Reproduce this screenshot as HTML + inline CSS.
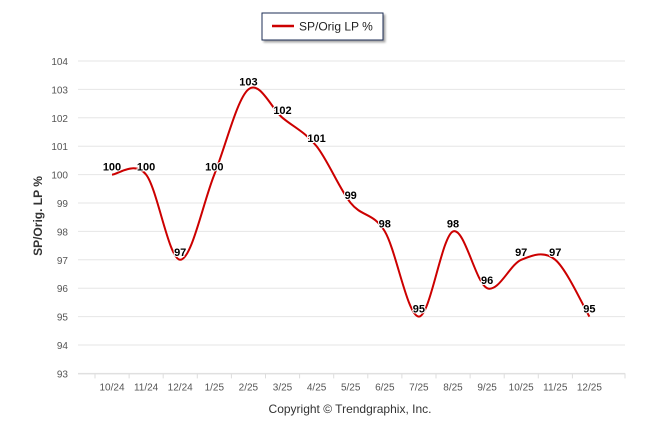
<!DOCTYPE html>
<html><head><meta charset="utf-8"><style>
body{margin:0;background:#fff;}
svg{display:block;font-family:"Liberation Sans",Arial,sans-serif;}
</style></head><body>
<svg id="c" width="646" height="434">
<defs><filter id="sh" x="-10%" y="-10%" width="130%" height="140%"><feDropShadow dx="2" dy="2" stdDeviation="1" flood-color="#000" flood-opacity="0.35"/></filter></defs>
<g>
<rect x="262" y="13" width="121" height="27" fill="#fff" stroke="#1f2f55" stroke-width="1" filter="url(#sh)"/>
<line x1="272" y1="26" x2="294" y2="26" stroke="#cc0000" stroke-width="2.5"/>
<text x="299" y="30.5" font-size="12" fill="#222">SP/Orig LP %</text>
</g>
<g id="grid"></g>
<g id="yt"></g>
<g id="xt"></g>
<text x="42" y="216" font-size="12" font-weight="bold" fill="#333" text-anchor="middle" transform="rotate(-90 42 216)">SP/Orig. LP %</text>
<path id="ln" fill="none" stroke="#cc0000" stroke-width="2"/>
<g id="lb"></g>
<text x="350" y="413" font-size="12" fill="#333" text-anchor="middle">Copyright © Trendgraphix, Inc.</text>
</svg>
<script>
const categories=["10/24","11/24","12/24","1/25","2/25","3/25","4/25","5/25","6/25","7/25","8/25","9/25","10/25","11/25","12/25"];
const values=[100,100,97,100,103,102,101,99,98,95,98,96,97,97,95];
const yTicks=[93,94,95,96,97,98,99,100,101,102,103,104];
const NS="http://www.w3.org/2000/svg";
const X0=78,X1=625;
function xs(i){return 112+i*34.1;}
function ys(v){return 61+(104-v)*28.4;}
function mk(t,a,p,txt){const e=document.createElementNS(NS,t);for(const k in a)e.setAttribute(k,a[k]);if(txt!=null)e.textContent=txt;p.appendChild(e);return e;}
const grid=document.getElementById('grid'),yt=document.getElementById('yt'),xt=document.getElementById('xt'),lb=document.getElementById('lb');
yTicks.forEach(v=>{
 const g=mk('line',{x1:X0,x2:X1,y1:ys(v),y2:ys(v),stroke:'#e6e6e6','stroke-width':1},grid);
 
 
 const t=mk('text',{x:68,y:ys(v)+4,'font-size':10,fill:'#555','text-anchor':'end'},yt,v);
 
 
});
mk('line',{x1:X0,x2:X1,y1:ys(93)+0.5,y2:ys(93)+0.5,stroke:'#ddd'},xt);
categories.forEach((c,i)=>{
 mk('line',{x1:xs(i)-17,x2:xs(i)-17,y1:ys(93),y2:ys(93)+5,stroke:'#ddd'},xt);
 const t=mk('text',{x:xs(i),y:ys(93)+17,'font-size':10,fill:'#555','text-anchor':'middle'},xt,c);
 
 
});
mk('line',{x1:X1,x2:X1,y1:ys(93),y2:ys(93)+5,stroke:'#ddd'},xt);
const P=values.map((v,i)=>[xs(i),ys(v)]);
let d='M'+P[0][0]+' '+P[0][1];
const s=1/6;
for(let i=0;i<P.length-1;i++){
 const p0=P[Math.max(0,i-1)],p1=P[i],p2=P[i+1],p3=P[Math.min(P.length-1,i+2)];
 const c1=[p1[0]+(p2[0]-p0[0])*s,p1[1]+(p2[1]-p0[1])*s];
 const c2=[p2[0]-(p3[0]-p1[0])*s,p2[1]-(p3[1]-p1[1])*s];
 d+=` C${c1[0]} ${c1[1]} ${c2[0]} ${c2[1]} ${p2[0]} ${p2[1]}`;
}
document.getElementById('ln').setAttribute('d',d);
values.forEach((v,i)=>{
 const t=mk('text',{x:xs(i),y:ys(v)-4,'font-size':11,'font-weight':'bold',fill:'#000','text-anchor':'middle',stroke:'#fff','stroke-width':2,'paint-order':'stroke'},lb,v);
 
 
});
</script>
</body></html>
